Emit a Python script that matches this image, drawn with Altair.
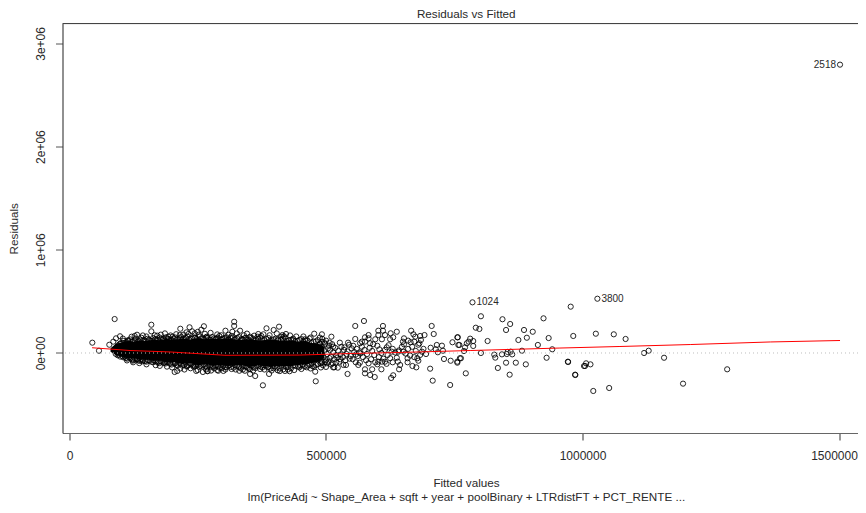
import altair as alt
import pandas as pd

# All pairs are (fitted, residual) in thousands.
# Saturated centre of the cloud: individual circles cannot be read there, so its outline is drawn as a filled area.
core_x = [80, 90, 100, 112, 125, 137, 150, 163, 176, 190, 205, 220, 235, 250, 265, 280, 293, 310, 330, 352, 370, 390, 410, 430, 445, 460, 472, 485, 497]
core_hi = [45, 88, 100, 116, 108, 122, 116, 130, 124, 136, 128, 140, 132, 142, 130, 138, 134, 140, 126, 134, 122, 130, 122, 124, 112, 116, 96, 92, 60]
core_lo = [12, -20, -34, -52, -48, -66, -62, -76, -72, -92, -86, -106, -98, -118, -108, -124, -116, -126, -118, -130, -120, -134, -128, -130, -116, -112, -100, -84, -50]

outliers_left = [(88,329),(44.5,100),(57.5,22),(159.5,274),(159.5,210),(98.5,162),(90.7,142),(85.4,110),(77.6,80),
    (131.6,177),(114,123),(171,168),(216,235),(234,249),(262,259),(239,210),(257,226),(215,174),(232,184),(193,158),
    (201,158),(183,139),(252,177),(267.5,158),(123,-74),(142,-80),(186,-87),(205,-184),(210,-174),(247,-174),
    (260,-184),(269,-177),(228.5,-132),(205.7,-100),(102,-3),(108,-36),(132,-58),(163.5,-68),(241.5,-132)]
outliers_mid = [(321,303),(321,262),(304,216),(332.5,216),(317.5,206),(316,165),(306.5,152),(336,136),(352,158),
    (368,184),(378,181),(384,239),(398,223),(408.5,255),(367,158),(407,133),(415,174),(422,184),(412.4,158),(436,123),
    (477,187),(492,181),(493,136),(510.5,158),(459,133),(514,61),(284,133),(269.5,110),(293,110),
    (377,-313),(480,-274),(362,-223),(352,-203),(389,-203),(479,-181),(269,-174),(290,-172),(300,-174),(316,-155),
    (331,-172),(342,-172),(371.5,-155),(397.5,-148),(406,-168),(417,-158),(420,-174),(429,-177),(448,-139),(462.5,-139),
    (477,-133),(516,-139),(492,-84),(282,-148),(297,-148),(352,-158),(388,-133)]
scatter_right = [(557,262),(574,310),(611,262),(611,216),(602,216),(638,206),(626,191),(615,174),(602,174),(583,174),
    (583,142),(576,152),(557,136),(596,133),(609,133),(631,152),(625,133),(576,110),(570,110),(566.5,94),(586,94),
    (666,216),(670.5,181),(652,142),(665,104),(674,158),(683.5,165),(692,174),(685,126),(682,94),(650,110),(652,84),
    (706,262),(710,184),(746.5,104),(757,152),(758,78),(704,51),(716,78),(726,71),(714,36),(718,7),(728,22),(651,13),
    (641,13),(628,13),(687,13),(618.5,55),(742,-310),(708,-268),(631,-216),(627,-242),(595,-233),(586,-213),(576,-197),
    (590,-158),(576,-158),(542,-203),(523,-142),(514,-139),(534,-116),(539,-116),(563,-116),(566,-94),(608,-158),
    (642.5,-158),(644.5,-116),(640,-84),(638,-46),(609,-84),(615,-84),(602,-84),(659,-90),(668.5,-126),(676,-139),
    (659,-51),(680,-75),(683.5,-19),(678,-51),(703,-152),(730,-58),(743,-75),(756,-84),(761,-51)]
scatter_far = [(802,356),(977,449),(924,336),(844,327),(859,281),(851,223),(886,223),(903,206),(792,245),(799,233),
    (982,165),(934,145),(891.5,148),(875,126),(815,116),(756,152),(760,78),(781,139),(778,110),(787,116),(774.5,94),
    (787,68),(771,55),(769,19),(802,0),(913,78),(941,36),(882,22),(828,-16),(830,-45),(843,-13),(854,10),(860,13),
    (852.5,-10),(863,-13),(930,-46),(763,-51),(756,-94),(870,-94),(851,-94),(889.5,-110),(835,-145),(971.5,-84),
    (1003,-126),(772.5,-197),(858,-210),(985.6,-210),(1026,187),(1061,181),(1084,136),(1120,0),(1129,22),(1159,-46),
    (1282,-158),(1196,-297),(1052,-339),(1021,-368),(986,-213),(972,-87),(1005,-126),(1007,-100),(1015.5,-110)]
cluster_a = [(512,85),(518,50),(524,20),(520,-20),(516,-60),(526,-85),(530,60),(535,30),(540,-10),(533,-40),(538,-70),
    (545,80),(550,45),(555,10),(548,-30),(552,-60),(558,-90),(527,100),(543,100),(562,-30),(560,40),(565,5),
    (508,30),(510,-35),(506,70),(514,5),(522,-45),(528,-15),(536,55),(542,15),(546,-55),(553,70),(558,-15),(505,-85),
    (492,60),(497,25),(502,-10),(495,-40),(500,-70),(488,85),(498,90),(486,-65),(491,-90),(504,45),(507,-50),(513,-100)]
cluster_b = [(570,60),(575,30),(580,-10),(572,-40),(578,-70),(585,50),(590,20),(594,-20),(588,-60),(596,-90),(600,70),
    (604,35),(608,0),(603,-40),(612,-55),(615,30),(620,-20),(625,-50),(630,40),(635,5),(622,75),(592,85),(567,-5),
    (583,-100),(600,-110),(618,-105),(630,-90),(642,25),(648,60),(655,-5),(660,40),(668,60),(675,20),(664,-25),
    (672,-40),(680,80),(690,40),(695,-10),(672,110),(660,120)]
fringe_up = [(100,95),(106,118),(112,105),(118,132),(124,112),(129,140),(135,118),(140,148),(146,125),(152,138),
    (158,120),(163,145),(170,128),(176,150),(182,130),(188,152),(194,135),(199,128),(206,150),(212,135),(218,155),
    (224,138),(230,160),(236,140),(242,152),(248,135),(254,160),(260,140),(266,150),(272,132),(278,155),(286,140),
    (292,165),(298,138),(304,150),(310,130),(318,145),(324,135),(330,155),(338,130),(344,148),(350,125),(358,140),
    (364,128),(372,150),(380,125),(388,145),(395,122),(402,138),(412,128),(420,150),(428,122),(436,140),(445,118),
    (452,135),(460,120),(468,140),(476,110),(484,125),(492,108),(500,120),(507,100)]
fringe_low = [(96,-15),(103,-30),(110,-48),(116,-42),(122,-62),(128,-55),(134,-72),(140,-64),(147,-80),(153,-70),
    (160,-85),(166,-74),(172,-92),(178,-80),(184,-98),(190,-84),(196,-105),(202,-92),(208,-115),(214,-98),(220,-122),
    (226,-104),(232,-118),(238,-108),(244,-130),(250,-112),(256,-126),(262,-110),(268,-140),(274,-118),(280,-132),
    (286,-120),(293,-145),(300,-125),(306,-138),(312,-118),(320,-142),(326,-125),(334,-150),(340,-128),(347,-142),
    (355,-125),(362,-146),(368,-130),(376,-140),(382,-122),(392,-150),(400,-130),(410,-150),(422,-135),(432,-148),
    (440,-125),(450,-120),(458,-130),(468,-115),(474,-128),(484,-110),(494,-118),(502,-100),(510,-112),(520,-90),(528,-60)]
outer_up = [(104,140),(121,158),(127,165),(143,170),(150,160),(166,172),(178,178),(186,190),(197,170),(208,182),
    (222,178),(228,200),(244,190),(250,205),(264,186),(275,195),(288,180),(296,172),(310,176),(326,190),(340,172),
    (346,188),(360,168),(374,165),(390,172),(404,190),(418,162),(430,170),(442,160),(456,160),(470,150),(488,150)]
outer_low = [(112,-72),(124,-90),(136,-98),(150,-110),(168,-118),(176,-125),(190,-132),(200,-140),(216,-150),(224,-160),
    (236,-148),(250,-165),(266,-160),(276,-170),(288,-165),(304,-160),(324,-160),(338,-160),(350,-150),(358,-170),
    (380,-160),(394,-170),(410,-175),(426,-160),(438,-165),(452,-155),(470,-150),(490,-140),(500,-135)]
edge_up = [(94,72),(98,88),(103,96),(109,102),(114,118),(121,110),(127,125),(132,108),(138,130),(143,118),(149,112),
    (155,130),(161,118),(167,135),(173,122),(179,134),(185,118),(191,138),(197,124),(203,140),(209,126),(215,142),
    (221,130),(227,146),(233,128),(239,138),(245,148),(251,126),(257,142),(263,130),(269,146),(275,128),(281,140),
    (289,148),(295,130),(301,142),(307,124),(314,146),(321,128),(327,142),(334,124),(341,142),(347,128),(354,146),
    (361,122),(368,138),(376,124),(384,136),(391,118),(398,132),(406,120),(416,138),(424,116),(432,128),(440,112),
    (448,126),(456,108),(464,122),(472,96),(480,112),(488,92),(496,104)]
edge_low = [(90,-8),(94,-22),(99,-35),(105,-42),(112,-55),(119,-50),(125,-68),(131,-62),(137,-76),(143,-68),(150,-84),
    (156,-74),(163,-90),(169,-80),(175,-98),(181,-86),(187,-102),(193,-92),(199,-112),(205,-98),(211,-120),(217,-104),
    (223,-114),(229,-126),(235,-104),(241,-120),(247,-112),(253,-134),(259,-118),(265,-128),(271,-114),(277,-136),
    (283,-122),(290,-132),(296,-114),(303,-138),(309,-124),(315,-134),(323,-118),(330,-136),(337,-122),(344,-134),
    (352,-118),(359,-136),(365,-122),(373,-132),(379,-118),(386,-138),(396,-124),(404,-140),(414,-122),(426,-134),
    (436,-120),(446,-130),(454,-112),(464,-122),(472,-102),(480,-116),(490,-100),(498,-88)]
labelled_x = [785.5, 1029, 1502]
labelled_y = [491, 526, 2794]
labelled_id = ["1024", "3800", "2518"]
smooth_x = [44, 118, 196, 303, 449, 547, 644, 781, 956, 1073, 1210, 1366, 1502]
smooth_y = [51, 24, 10, -22, -20, -5, 5, 24, 48, 63, 82, 107, 121]

title_text = "Residuals vs Fitted"
x_lines = ["Fitted values", "lm(PriceAdj ~ Shape_Area + sqft + year + poolBinary + LTRdistFT + PCT_RENTE ..."]
y_label = "Residuals"
x_ticks = [0, 500000, 1000000, 1500000]
y_ticks = [0, 1000000, 2000000, 3000000]

k = 1000
pts = (outliers_left + outliers_mid + scatter_right + scatter_far + cluster_a + cluster_b + fringe_up + fringe_low
       + outer_up + outer_low + edge_up + edge_low + list(zip(labelled_x, labelled_y)))
points_df = pd.DataFrame({"x": [p[0] * k for p in pts], "y": [p[1] * k for p in pts]})
core_df = pd.DataFrame({"x": [v * k for v in core_x], "hi": [v * k for v in core_hi], "lo": [v * k for v in core_lo]})
smooth_df = pd.DataFrame({"x": [v * k for v in smooth_x], "y": [v * k for v in smooth_y]})
lab_df = pd.DataFrame({"x": [v * k for v in labelled_x], "y": [v * k for v in labelled_y], "id": labelled_id})
zero_df = pd.DataFrame({"y": [0]})

ink = "#2a2a2a"
y_top = 3192829
xs = alt.Scale(domain=[-13645, 1537037], nice=False, zero=False)
ys = alt.Scale(domain=[-775194, y_top], nice=False, zero=False)
top_df = pd.DataFrame({"y": [y_top]})
x_axis = alt.Axis(
    values=x_ticks, format="d", title=x_lines, grid=False, tickSize=7, tickColor="#333", domainColor="#666",
    labelFont="Liberation Sans", labelFontSize=12, labelColor=ink, labelPadding=10,
    labelOffset=alt.expr("datum.value === 1500000 ? -5 : 0"),
    titleFont="Liberation Sans", titleFontSize=11.7, titleFontWeight="normal", titleColor=ink, titlePadding=16,
    titleLineHeight=14, titleX=403.5)
y_axis = alt.Axis(
    values=y_ticks, labelExpr="replace(format(datum.value,'.0e'),'+','+0')", title=y_label, grid=False, tickSize=7,
    tickColor="#555", domainColor="#333", labelAngle=270, labelAlign="center", labelBaseline="bottom", labelPadding=8,
    labelFont="Liberation Sans", labelFontSize=12, labelColor=ink,
    titleFont="Liberation Sans", titleFontSize=11.7, titleFontWeight="normal", titleColor=ink, titlePadding=15)

core = alt.Chart(core_df).mark_area(color="black", opacity=1).encode(
    x=alt.X("x:Q", scale=xs, axis=x_axis), y=alt.Y("hi:Q", scale=ys, axis=y_axis), y2="lo:Q")
px = alt.X("x:Q", scale=xs)
py = alt.Y("y:Q", scale=ys)
circles = alt.Chart(points_df).mark_point(shape="circle", size=27, filled=False, stroke="black", strokeWidth=1, opacity=0.85).encode(x=px, y=py)
zero = alt.Chart(zero_df).mark_rule(color="#bdbdbd", strokeDash=[1, 3], strokeWidth=1).encode(y=py)
top_line = alt.Chart(top_df).mark_rule(color="#444", strokeWidth=1).encode(y=py)
smooth = alt.Chart(smooth_df).mark_line(color="#ff0000", strokeWidth=1, interpolate="linear").encode(x=px, y=py)
right_lab = alt.Chart(lab_df[lab_df.id != "2518"]).mark_text(align="left", dx=4, font="Liberation Sans", fontSize=10, color=ink).encode(x=px, y=py, text="id:N")
left_lab = alt.Chart(lab_df[lab_df.id == "2518"]).mark_text(align="right", dx=-4, font="Liberation Sans", fontSize=10, color=ink).encode(x=px, y=py, text="id:N")

chart = (core + circles + zero + smooth + top_line + right_lab + left_lab).properties(
    width=795.5, height=409.5,
    autosize=alt.AutoSizeParams(type="none"),
    padding={"left": 54.5, "top": 15.5, "right": 0, "bottom": 71},
    title=alt.TitleParams(title_text, font="Liberation Sans", fontSize=11.7, fontWeight="normal", color=ink, anchor="middle", offset=2, dx=6),
).configure_view(stroke=None).configure(background="white")
chart.save("out.html", embed_options={"renderer": "svg", "actions": False})
